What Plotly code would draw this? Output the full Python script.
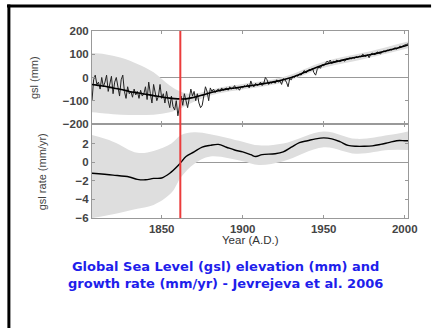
import plotly.graph_objects as go

# ---- data ----
years = list(range(1807, 2003))
gsl_annual = [
    -100, -10, 10, -30, -20, -50, 0, -40, -20, 10,
    -60, -30, 5, -70, -20, 0, -50, -80, -10, 10,
    -60, -90, -40, -70, -60, -85, -50, -75, -60, -90,
    -55, -80, -70, -40, -95, -20, -70, -110, -30, -60,
    -100, -80, -30, -90, -70, -110, -60, -100, -130, -80,
    -125, -140, -100, -165, -110, -80, -120, -70, -100, -130,
    -90, -50, -80, -60, -100, -70, -110, -130, -120, -80,
    -40, -60, -100, -45, -60, -50, -65, -55, -50, -60,
    -45, -55, -50, -45, -55, -40, -50, -45, -35, -50,
    -45, -55, -40, -45, -35, -40, -30, -45, -15, -35,
    -40, -25, -35, -30, -20, -35, -25, 0, -10, -30,
    -20, -25, -15, -25, -10, -20, -15, -30, -5, -10,
    -20, -40, -5, -10, 5, 0, 10, 5, 15, 10,
    20, 30, 20, 25, 35, 30, 40, 20, 10, 35,
    45, 40, 55, 50, 60, 70, 65, 75, 60, 70,
    65, 75, 70, 68, 72, 75, 70, 80, 78, 85,
    80, 86, 82, 90, 85, 92, 88, 100, 95, 90,
    98, 85, 100, 105, 98, 100, 110, 105, 102, 108,
    115, 110, 118, 115, 122, 118, 125, 128, 122, 130,
    135, 132, 138, 140, 142, 145,
]

smooth_years = [1807, 1810, 1815, 1820, 1825, 1830, 1835, 1840, 1845, 1850, 1855,
                1860, 1865, 1870, 1875, 1880, 1885, 1890, 1895, 1900, 1905, 1910,
                1915, 1920, 1925, 1930, 1935, 1940, 1945, 1950, 1955, 1960, 1965,
                1970, 1975, 1980, 1985, 1990, 1995, 2000, 2002]
gsl_smooth = [-30, -33, -38, -45, -52, -60, -66, -72, -78, -84, -89,
              -92, -92, -85, -76, -66, -57, -50, -45, -40, -35, -30,
              -24, -18, -10, 0, 13, 28, 42, 55, 64, 72, 80,
              87, 93, 100, 108, 117, 126, 135, 140]

band_years = [1807, 1815, 1825, 1835, 1845, 1855, 1862, 1870, 1880, 1890, 1900,
              1925, 1950, 1975, 2002]
gsl_upper = [105, 100, 85, 58, 22, -35, -62, -70, -54, -38, -28, 2, 68, 107, 155]
gsl_lower = [-150, -155, -160, -162, -160, -150, -132, -105, -78, -62, -52, -22, 42, 80, 126]

rate_years = [1807, 1820, 1830, 1835, 1840, 1845, 1850, 1855, 1860, 1862, 1865,
              1870, 1875, 1880, 1885, 1890, 1895, 1900, 1905, 1908, 1912, 1920,
              1925, 1930, 1935, 1940, 1945, 1950, 1955, 1960, 1965, 1970, 1975,
              1980, 1985, 1990, 1995, 2000, 2002]
gsl_rate = [-1.2, -1.4, -1.6, -1.85, -1.9, -1.75, -1.7, -1.2, -0.4, 0.0, 0.6,
            1.1, 1.6, 1.8, 1.9, 1.6, 1.3, 1.1, 0.8, 0.6, 0.8, 0.9,
            1.1, 1.6, 2.1, 2.3, 2.5, 2.6, 2.5, 2.2, 1.8, 1.7, 1.7,
            1.75, 1.9, 2.1, 2.3, 2.3, 2.3]

rate_band_years = [1807, 1820, 1835, 1845, 1856, 1862, 1870, 1880, 1900, 1910,
                   1925, 1950, 1970, 1990, 2002]
rate_upper = [2.9, 2.2, 1.0, 1.2, 2.0, 2.9, 3.2, 3.0, 2.2, 1.8, 2.0, 3.3, 2.5, 2.9, 3.3]
rate_lower = [-6.0, -5.6, -5.0, -4.6, -3.3, -1.6, -0.2, 0.6, 0.1, -0.3, 0.1, 1.6, 0.9, 1.3, 1.3]

marker_year = 1861.5
x_ticks = [1850, 1900, 1950, 2000]
gsl_ticks = [-200, -100, 0, 100, 200]
rate_ticks = [-6, -4, -2, 0, 2]

# ---- figure ----
band_color = "rgb(222,222,222)"
tick_font = dict(family="Liberation Sans, Arial", size=11.5, color="#444", weight="bold")

fig = go.Figure()

fig.add_trace(go.Scatter(x=band_years, y=gsl_upper, mode="lines", line=dict(width=0, shape="spline"),
                         xaxis="x2", yaxis="y", hoverinfo="skip", showlegend=False))
fig.add_trace(go.Scatter(x=band_years, y=gsl_lower, mode="lines", line=dict(width=0, shape="spline"),
                         fill="tonexty", fillcolor=band_color,
                         xaxis="x2", yaxis="y", hoverinfo="skip", showlegend=False))
fig.add_trace(go.Scatter(x=years, y=gsl_annual, mode="lines", line=dict(color="#222", width=1),
                         xaxis="x2", yaxis="y", showlegend=False))
fig.add_trace(go.Scatter(x=smooth_years, y=gsl_smooth, mode="lines",
                         line=dict(color="black", width=1.6, shape="spline"),
                         xaxis="x2", yaxis="y", showlegend=False))

fig.add_trace(go.Scatter(x=rate_band_years, y=rate_upper, mode="lines", line=dict(width=0, shape="spline"),
                         xaxis="x", yaxis="y2", hoverinfo="skip", showlegend=False))
fig.add_trace(go.Scatter(x=rate_band_years, y=rate_lower, mode="lines", line=dict(width=0, shape="spline"),
                         fill="tonexty", fillcolor=band_color,
                         xaxis="x", yaxis="y2", hoverinfo="skip", showlegend=False))
fig.add_trace(go.Scatter(x=rate_years, y=gsl_rate, mode="lines",
                         line=dict(color="black", width=1.4, shape="spline"),
                         xaxis="x", yaxis="y2", showlegend=False))

axis_common = dict(showline=True, mirror="ticks", linecolor="#999", linewidth=1,
                   ticks="inside", ticklen=3, tickcolor="#999", showgrid=False)

split = 0.503
fig.update_layout(
    width=439, height=328,
    margin=dict(l=92, r=31, t=31, b=110),
    paper_bgcolor="white", plot_bgcolor="white",
    xaxis=dict(domain=[0, 1], anchor="y2", range=[1807, 2002], tickvals=x_ticks,
               tickfont=tick_font, zeroline=False, **axis_common),
    xaxis2=dict(domain=[0, 1], anchor="y", range=[1807, 2002], tickvals=x_ticks,
                showticklabels=False, zeroline=False, matches="x", **axis_common),
    yaxis=dict(domain=[split, 1], anchor="x2", range=[-200, 200], tickvals=gsl_ticks,
               tickfont=tick_font, zeroline=True, zerolinecolor="#999", zerolinewidth=1,
               **axis_common),
    yaxis2=dict(domain=[0, split], anchor="x", range=[-6, 4.1], tickvals=rate_ticks,
                tickfont=tick_font, zeroline=True, zerolinecolor="#999", zerolinewidth=1,
                **axis_common),
    shapes=[
        dict(type="line", xref="x", yref="paper", x0=marker_year, x1=marker_year, y0=0, y1=1,
             line=dict(color="rgb(235,60,60)", width=2)),
        dict(type="line", xref="paper", yref="paper", x0=-0.269, x1=1.073, y0=1.134, y1=1.134,
             line=dict(color="black", width=3)),
        dict(type="line", xref="paper", yref="paper", x0=-0.263, x1=-0.263, y0=1.142, y1=-0.6,
             line=dict(color="black", width=3)),
    ],
    annotations=[
        dict(text="gsl (mm)", xref="paper", yref="paper", x=-0.185, y=0.751, textangle=-90,
             xanchor="center", yanchor="middle", showarrow=False,
             font=dict(family="Liberation Sans Narrow, Liberation Sans, Arial", size=11, color="#444")),
        dict(text="gsl rate (mm/yr)", xref="paper", yref="paper", x=-0.158, y=0.245, textangle=-90,
             xanchor="center", yanchor="middle", showarrow=False,
             font=dict(family="Liberation Sans Narrow, Liberation Sans, Arial", size=11, color="#444")),
        dict(text="Year (A.D.)", xref="paper", yref="paper", x=0.5, y=-0.118,
             xanchor="center", yanchor="middle", showarrow=False,
             font=dict(family="Liberation Sans, Arial", size=11.5, color="#333")),
        dict(text="Global Sea Level (gsl) elevation (mm) and<br>growth rate (mm/yr) - Jevrejeva et al. 2006",
             xref="paper", yref="paper", x=0.421, y=-0.305, xanchor="center", yanchor="middle",
             showarrow=False, align="center",
             font=dict(family="DejaVu Sans, Verdana", size=13, color="rgb(30,30,235)", weight="bold")),
    ],
)

fig.write_html("out.html")
